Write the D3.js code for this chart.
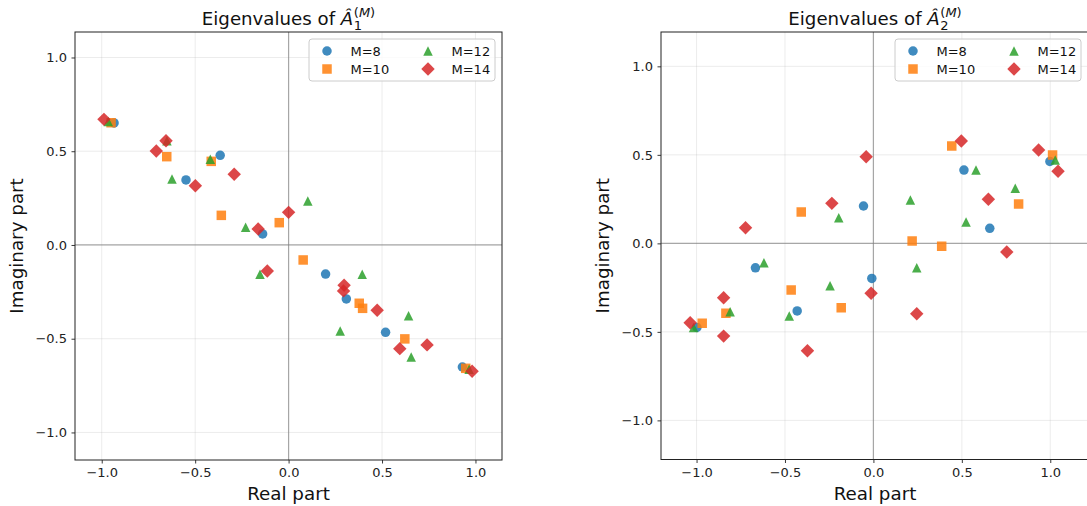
<!DOCTYPE html>
<html>
<head>
<meta charset="utf-8">
<script src="https://cdn.jsdelivr.net/npm/d3@7"></script>
<style>
  body { margin: 0; background: #fff; }
  svg { display: block; font-family: "DejaVu Sans", sans-serif; }
</style>
</head>
<body>
<div id="chart"></div>
<script>
const width = 1087;
const height = 506;

const seriesLabels = ['M=8', 'M=10', 'M=12', 'M=14'];
const colors = ['#1f77b4', '#ff7f0e', '#2ca02c', '#d62728'];
const ticks = [-1.0, -0.5, 0.0, 0.5, 1.0];

// eigenvalues of A1 hat, as [real, imag]
const a1M8 = [[-0.934, 0.651], [-0.549, 0.347], [-0.366, 0.478], [-0.139, 0.059],
    [0.198, -0.155], [0.309, -0.288], [0.519, -0.466], [0.930, -0.651]];
const a1M10 = [[-0.950, 0.652], [-0.652, 0.471], [-0.414, 0.446], [-0.360, 0.158], [-0.050, 0.119],
    [0.078, -0.080], [0.378, -0.311], [0.396, -0.338], [0.622, -0.501], [0.948, -0.658]];
const a1M12 = [[-0.965, 0.658], [-0.651, 0.556], [-0.624, 0.352], [-0.419, 0.457], [-0.230, 0.094],
    [0.103, 0.235], [-0.153, -0.156], [0.394, -0.156], [0.276, -0.459], [0.642, -0.377],
    [0.656, -0.597], [0.966, -0.663]];
const a1M14 = [[-0.988, 0.670], [-0.656, 0.556], [-0.708, 0.501], [-0.499, 0.316], [-0.291, 0.377],
    [-0.163, 0.085], [0.000, 0.174], [-0.114, -0.139], [0.297, -0.215], [0.294, -0.245],
    [0.474, -0.348], [0.595, -0.553], [0.741, -0.533], [0.982, -0.674]];

// eigenvalues of A2 hat
const a2M8 = [[-0.998, -0.475], [-0.667, -0.138], [-0.431, -0.382], [-0.056, 0.211],
    [-0.009, -0.198], [0.512, 0.414], [0.658, 0.085], [0.998, 0.463]];
const a2M10 = [[-0.968, -0.452], [-0.834, -0.395], [-0.408, 0.177], [-0.465, -0.264], [-0.182, -0.364],
    [0.219, 0.013], [0.386, -0.017], [0.443, 0.550], [0.821, 0.222], [1.013, 0.499]];
const a2M12 = [[-1.017, -0.475], [-0.810, -0.386], [-0.619, -0.109], [-0.476, -0.411], [-0.245, -0.239],
    [-0.196, 0.145], [0.209, 0.245], [0.245, -0.138], [0.524, 0.120], [0.580, 0.414],
    [0.802, 0.311], [1.028, 0.471]];
const a2M14 = [[-1.036, -0.448], [-0.847, -0.307], [-0.847, -0.524], [-0.723, 0.088], [-0.373, -0.607],
    [-0.235, 0.226], [-0.041, 0.489], [-0.013, -0.282], [0.245, -0.398], [0.497, 0.578],
    [0.650, 0.249], [0.754, -0.049], [0.934, 0.527], [1.044, 0.407]];

// matplotlib-like markers
const markerSize = 9.5;
const triangleUp = {
    draw(ctx, size) {
        const h = Math.sqrt(size) / 2;
        ctx.moveTo(0, -h); ctx.lineTo(h, h); ctx.lineTo(-h, h); ctx.closePath();
    }
};
const diamond = {
    draw(ctx, size) {
        const r = Math.sqrt(size) / 2;
        ctx.moveTo(0, -r); ctx.lineTo(r, 0); ctx.lineTo(0, r); ctx.lineTo(-r, 0); ctx.closePath();
    }
};
const symbols = [
    d3.symbol(d3.symbolCircle, Math.PI * (markerSize / 2) ** 2),
    d3.symbol(d3.symbolSquare, markerSize * markerSize),
    d3.symbol(triangleUp, markerSize * markerSize),
    d3.symbol(diamond, (markerSize * Math.SQRT2) ** 2),
];

const panels = [
    { sub: '1', box: { left: 75, top: 32, right: 502, bottom: 460 },
      xDomain: [-1.143, 1.142], yDomain: [-1.147, 1.136],
      series: [a1M8, a1M10, a1M12, a1M14] },
    { sub: '2', box: { left: 661, top: 32, right: 1089, bottom: 459.5 },
      xDomain: [-1.201, 1.219], yDomain: [-1.221, 1.194],
      series: [a2M8, a2M10, a2M12, a2M14] },
];

const svg = d3.select('#chart').append('svg')
    .attr('width', width)
    .attr('height', height);

panels.forEach((p, pi) => {
    const b = p.box;
    const x = d3.scaleLinear().domain(p.xDomain).range([b.left, b.right]);
    const y = d3.scaleLinear().domain(p.yDomain).range([b.bottom, b.top]);
    const g = svg.append('g');

    g.append('clipPath').attr('id', 'clip' + pi)
        .append('rect')
        .attr('x', b.left).attr('y', b.top)
        .attr('width', b.right - b.left).attr('height', b.bottom - b.top);

    // grid
    g.append('g').selectAll('line').data(ticks).join('line')
        .attr('x1', d => x(d)).attr('x2', d => x(d))
        .attr('y1', b.top).attr('y2', b.bottom)
        .attr('stroke', '#b0b0b0').attr('stroke-opacity', 0.3).attr('stroke-width', 0.8);
    g.append('g').selectAll('line').data(ticks).join('line')
        .attr('y1', d => y(d)).attr('y2', d => y(d))
        .attr('x1', b.left).attr('x2', b.right)
        .attr('stroke', '#b0b0b0').attr('stroke-opacity', 0.3).attr('stroke-width', 0.8);

    // zero lines
    g.append('line')
        .attr('x1', b.left).attr('x2', b.right).attr('y1', y(0)).attr('y2', y(0))
        .attr('stroke', '#808080').attr('stroke-opacity', 0.65).attr('stroke-width', 1.2);
    g.append('line')
        .attr('y1', b.top).attr('y2', b.bottom).attr('x1', x(0)).attr('x2', x(0))
        .attr('stroke', '#808080').attr('stroke-opacity', 0.65).attr('stroke-width', 1.2);

    // points
    const plot = g.append('g').attr('clip-path', `url(#clip${pi})`);
    p.series.forEach((data, si) => {
        plot.append('g').selectAll('path').data(data).join('path')
            .attr('transform', d => `translate(${x(d[0])},${y(d[1])})`)
            .attr('d', symbols[si])
            .attr('fill', colors[si])
            .attr('fill-opacity', 0.85);
    });

    // axes
    const fmt = d3.format('.1f');
    const ax = g.append('g').attr('transform', `translate(0,${b.bottom})`)
        .call(d3.axisBottom(x).tickValues(ticks).tickFormat(fmt).tickSize(3.5).tickPadding(4.5));
    const ay = g.append('g').attr('transform', `translate(${b.left},0)`)
        .call(d3.axisLeft(y).tickValues(ticks).tickFormat(fmt).tickSize(3.5).tickPadding(4.5));
    [ax, ay].forEach(a => {
        a.select('.domain').remove();
        a.selectAll('line').attr('stroke', '#222').attr('stroke-width', 0.9);
        a.selectAll('text').attr('fill', '#222').attr('font-size', 13)
            .attr('font-family', '"DejaVu Sans", sans-serif');
    });

    // frame
    g.append('rect')
        .attr('x', b.left).attr('y', b.top)
        .attr('width', b.right - b.left).attr('height', b.bottom - b.top)
        .attr('fill', 'none').attr('stroke', '#222').attr('stroke-width', 1);

    // axis labels
    const cx = (b.left + b.right) / 2;
    g.append('text')
        .attr('x', cx).attr('y', 500)
        .attr('text-anchor', 'middle').attr('font-size', 18.3).attr('fill', '#111')
        .text('Real part');
    g.append('text')
        .attr('transform', `translate(${b.left - 52},${(b.top + b.bottom) / 2}) rotate(-90)`)
        .attr('text-anchor', 'middle').attr('font-size', 18.3).attr('fill', '#111')
        .text('Imaginary part');

    // title: Eigenvalues of Â_k^(M)
    const tg = g.append('g');
    const main = tg.append('text').attr('font-size', 18.2).attr('fill', '#111').attr('y', 25);
    main.append('tspan').text('Eigenvalues of ');
    main.append('tspan').attr('font-style', 'italic').text('Â');
    const w1 = main.node().getComputedTextLength();
    tg.append('text').attr('x', w1 + 0.5).attr('y', 30).attr('font-size', 13).attr('fill', '#111')
        .text(p.sub);
    const sup = tg.append('text').attr('x', w1 + 0.5).attr('y', 17).attr('font-size', 13).attr('fill', '#111');
    sup.append('tspan').text('(');
    sup.append('tspan').attr('font-style', 'italic').text('M');
    sup.append('tspan').text(')');
    const total = w1 + 0.5 + sup.node().getComputedTextLength();
    tg.attr('transform', `translate(${cx - total / 2},0)`);

    // legend, two columns
    const lw = 186, lh = 42;
    const lx = Math.min(b.right, width) - 6 - lw - (b.right > width ? 0 : 1);
    const ly = b.top + 7;
    const lg = g.append('g');
    lg.append('rect')
        .attr('x', lx).attr('y', ly).attr('width', lw).attr('height', lh)
        .attr('rx', 3).attr('fill', '#fff').attr('fill-opacity', 0.8)
        .attr('stroke', '#cccccc').attr('stroke-width', 1);
    const cols = [18, 119];
    const rows = [12, 30];
    seriesLabels.forEach((label, si) => {
        const mx = lx + cols[Math.floor(si / 2)];
        const my = ly + rows[si % 2];
        lg.append('path')
            .attr('transform', `translate(${mx},${my})`)
            .attr('d', symbols[si])
            .attr('fill', colors[si]).attr('fill-opacity', 0.85);
        lg.append('text')
            .attr('x', mx + 23.5).attr('y', my).attr('dy', '0.36em')
            .attr('font-size', 13).attr('fill', '#111')
            .text(label);
    });
});
</script>
</body>
</html>
